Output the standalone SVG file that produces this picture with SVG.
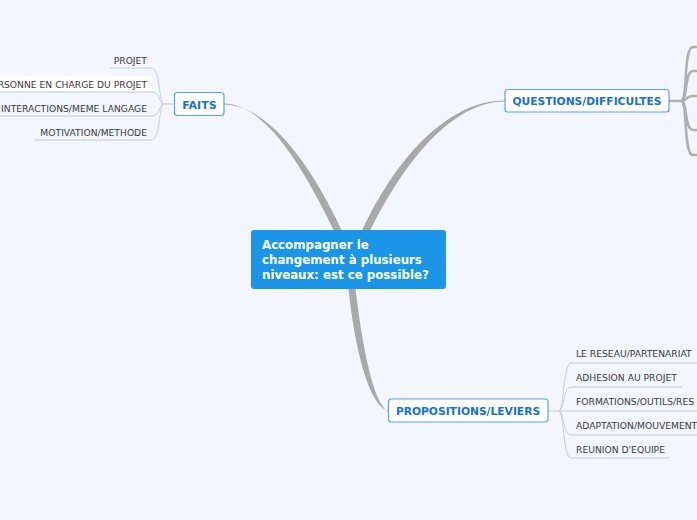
<svg xmlns="http://www.w3.org/2000/svg" width="697" height="520" viewBox="0 0 697 520">
<style>
.main{fill:#a9a9a9;stroke:none}
.sub{fill:none;stroke:#c9cbd3;stroke-width:1}
.thick{fill:none;stroke:#b0b0b0;stroke-width:2.5}
.node rect{fill:#ffffff;stroke:#5aa2ee;stroke-width:1.2}
.node text{font-family:"DejaVu Sans",Verdana,sans-serif;font-weight:bold;fill:#1570d8;text-anchor:middle}
.leaf{font-family:"DejaVu Sans",Verdana,sans-serif;font-size:9.2px;fill:#3a3a3a}
.central text{font-family:"DejaVu Sans",Verdana,sans-serif;font-weight:bold;font-size:11.8px;fill:#ffffff}
</style>
<rect x="0" y="0" width="697" height="520" fill="#f3f6fe"/>
<g id="connectors">
<path class="main" d="M334,231 C296,151 259,103.5 224,103.6 L224,104.4 C261,104.5 304,149 342,231 Z"/>
<path class="main" d="M362,231 C396,158 448,100.5 505,100.6 L505,101.4 C452,101.5 404,162 370,231 Z"/>
<path class="main" d="M348.5,289 C354.5,345 368,405 388,410.6 L388,411.4 C372,402 361.5,338 355.5,289 Z"/>
<path class="sub" d="M174,104 L164,104"/>
<path class="sub" d="M164,104 C159,104 160,68 152,68 L109,68"/>
<path class="sub" d="M164,104 C159,104 160,92 152,92 L0,92"/>
<path class="sub" d="M164,104 C159,104 160,116 152,116 L0,116"/>
<path class="sub" d="M164,104 C159,104 160,140 152,140 L35,140"/>
<path class="sub" d="M548,411 L559,411"/>
<path class="sub" d="M559,411 C564,411 563,363 571,363 L697,363"/>
<path class="sub" d="M559,411 C564,411 563,387 571,387 L682,387"/>
<path class="sub" d="M559,411 L697,411"/>
<path class="sub" d="M559,411 C564,411 563,435 571,435 L697,435"/>
<path class="sub" d="M559,411 C564,411 563,458 571,458 L669,458"/>
<path class="thick" d="M669,101 L681,101"/>
<path class="thick" d="M681,101 C688,101 683,47 693,47 L697,47"/>
<path class="thick" d="M681,101 C688,101 684,71 693,71 L697,71"/>
<path class="thick" d="M681,101 C688,101 685,96 693,96 L697,96"/>
<path class="thick" d="M681,101 C688,101 684,130 693,130 L697,130"/>
<path class="thick" d="M681,101 C688,101 683,155 693,155 L697,155"/>
</g>
<g id="central" class="central">
<rect x="251" y="230" width="195" height="59" rx="3" fill="#1b96e6"/>
<text x="262" y="249">Accompagner le</text>
<text x="262" y="264">changement à plusieurs</text>
<text x="262" y="279">niveaux: est ce possible?</text>
</g>
<g id="faits" class="node">
<rect x="174.5" y="92.5" width="49.5" height="23" rx="3"/>
<text x="199.5" y="108.5" font-size="11">FAITS</text>
</g>
<g id="questions" class="node">
<rect x="505" y="89.5" width="164" height="22.5" rx="3"/>
<text x="587" y="105" font-size="10.7">QUESTIONS/DIFFICULTES</text>
</g>
<g id="propositions" class="node">
<rect x="388.5" y="399" width="159.5" height="23" rx="3"/>
<text x="468" y="415" font-size="10.7">PROPOSITIONS/LEVIERS</text>
</g>
<g id="faits-projet"><text class="leaf" x="147" y="64" text-anchor="end">PROJET</text></g>
<g id="faits-personne"><rect x="0" y="76" width="152" height="15" fill="#ffffff"/><text class="leaf" x="147" y="88" text-anchor="end">PERSONNE EN CHARGE DU PROJET</text></g>
<g id="faits-interactions"><text class="leaf" x="147" y="112" text-anchor="end">INTERACTIONS/MEME LANGAGE</text></g>
<g id="faits-motivation"><text class="leaf" x="147" y="136" text-anchor="end">MOTIVATION/METHODE</text></g>
<g id="prop-reseau"><text class="leaf" x="576" y="357">LE RESEAU/PARTENARIAT</text></g>
<g id="prop-adhesion"><text class="leaf" x="576" y="381">ADHESION AU PROJET</text></g>
<g id="prop-formations"><text class="leaf" x="576" y="405">FORMATIONS/OUTILS/RES</text></g>
<g id="prop-adaptation"><text class="leaf" x="576" y="429">ADAPTATION/MOUVEMENT</text></g>
<g id="prop-reunion"><text class="leaf" x="576" y="453">REUNION D'EQUIPE</text></g>
</svg>
